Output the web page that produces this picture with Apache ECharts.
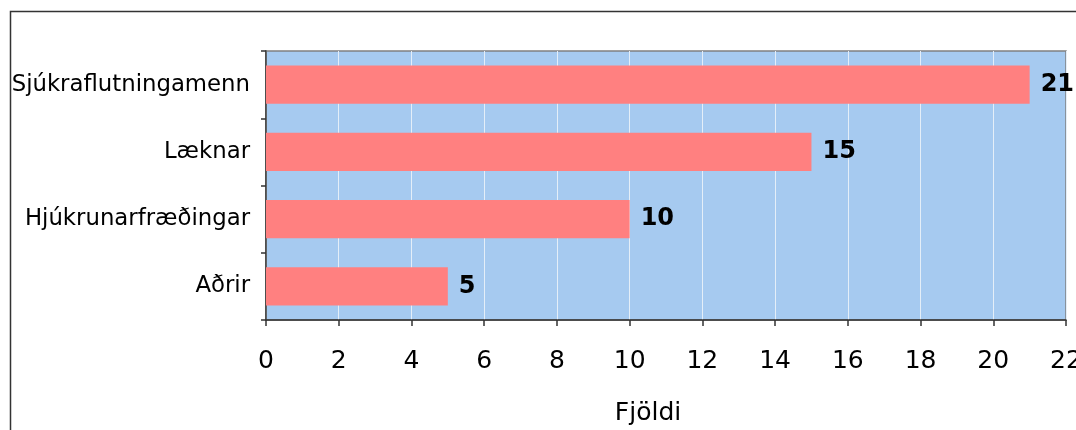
<!DOCTYPE html>
<html><head><meta charset="utf-8">
<script src="https://cdn.jsdelivr.net/npm/echarts@6/dist/echarts.min.js"></script>
<style>html,body{margin:0;padding:0;background:#fff}#c{width:1076px;height:430px}</style>
</head><body><div id="c"></div>
<script>
const categories = ['Sjúkraflutningamenn', 'Læknar', 'Hjúkrunarfræðingar', 'Aðrir'];
const values = [21, 15, 10, 5];
const xTicks = { min: 0, max: 22, interval: 2 };
const xAxisName = 'Fjöldi';

const chart = echarts.init(document.getElementById('c'), null, { renderer: 'canvas' });
const font = 'DejaVu Sans, Verdana, sans-serif';
chart.setOption({
  animation: false,
  backgroundColor: '#fff',
  graphic: [{
    type: 'rect', left: 8, top: 9, shape: { width: 1200, height: 600 },
    style: { fill: 'none', stroke: '#333', lineWidth: 1.5 }, z: -1
  }],
  grid: {
    left: 266, right: 10, top: 51, bottom: 110,
    outerBoundsMode: 'none', containLabel: false,
    show: true, backgroundColor: '#A6CAF0', borderColor: '#808080', borderWidth: 1.5
  },
  xAxis: {
    type: 'value', min: xTicks.min, max: xTicks.max, interval: xTicks.interval,
    name: xAxisName, nameLocation: 'middle', nameGap: 81,
    nameTextStyle: { fontFamily: font, fontSize: 25, color: '#000', padding: [0, 36, 0, 0] },
    axisLine: { show: true, lineStyle: { color: '#333', width: 1.5 } },
    axisTick: { show: true, length: 6, lineStyle: { color: '#333', width: 1.5 } },
    axisLabel: { fontFamily: font, fontSize: 25, color: '#000', margin: 29, hideOverlap: false },
    splitLine: { show: true, lineStyle: { color: '#E4EEF8', width: 1 } }
  },
  yAxis: {
    type: 'category', data: categories, inverse: true,
    axisLine: { show: true, lineStyle: { color: '#333', width: 1.5 } },
    axisTick: { show: true, length: 5, alignWithLabel: false, lineStyle: { color: '#333', width: 1.5 } },
    axisLabel: { fontFamily: font, fontSize: 22.8, color: '#000', margin: 16 },
    splitLine: { show: false }
  },
  series: [{
    type: 'bar', data: values, barCategoryGap: '43%',
    itemStyle: { color: '#FF8080' },
    label: { show: true, position: 'right', distance: 11, fontFamily: font, fontSize: 24, fontWeight: 'bold', color: '#000' }
  }]
});
</script></body></html>
